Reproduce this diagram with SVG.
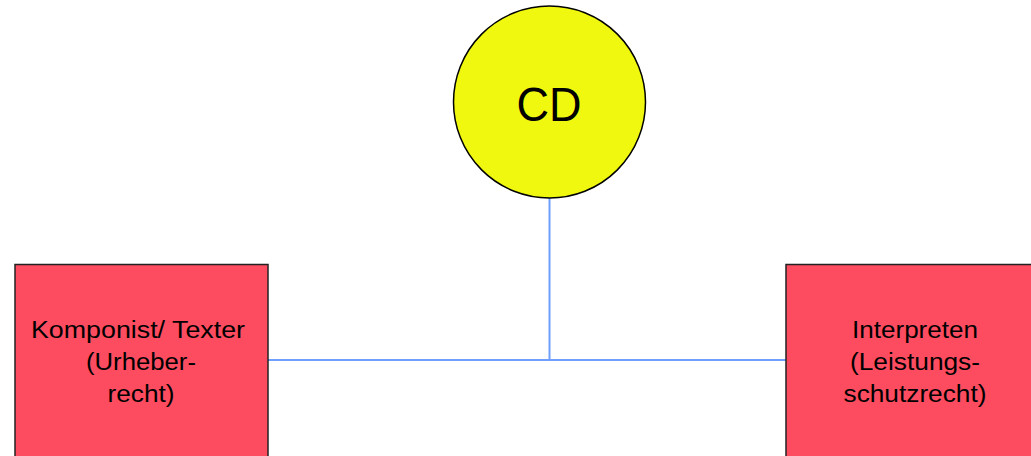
<svg xmlns="http://www.w3.org/2000/svg" width="1031" height="456" viewBox="0 0 1031 456">
<style>
.box{fill:#FD4C5F;stroke:#222;stroke-width:1.5}
.t{font-family:"Liberation Sans",Arial,sans-serif;font-size:23.5px;fill:#000;text-anchor:middle}
.c{stroke:#6F9FFF;stroke-width:2;fill:none}
</style>
<rect width="1031" height="456" fill="#fff"/>
<g id="connectors">
<line class="c" x1="549.5" y1="198" x2="549.5" y2="360"/>
<line class="c" x1="268" y1="360" x2="786" y2="360"/>
</g>
<g id="cd">
<circle cx="549.5" cy="102" r="96" fill="#F1F80F" stroke="#000" stroke-width="1.5"/>
<text x="549" y="120.5" style="font-family:'Liberation Sans',Arial,sans-serif;font-size:48px;text-anchor:middle" textLength="65" lengthAdjust="spacingAndGlyphs">CD</text>
</g>
<g id="komponist">
<rect class="box" x="15" y="264.5" width="253" height="200"/>
<text class="t" x="138" y="337.5" textLength="214" lengthAdjust="spacingAndGlyphs">Komponist/ Texter</text>
<text class="t" x="141" y="369.5" textLength="110" lengthAdjust="spacingAndGlyphs">(Urheber-</text>
<text class="t" x="141" y="401.5" textLength="67" lengthAdjust="spacingAndGlyphs">recht)</text>
</g>
<g id="interpreten">
<rect class="box" x="786" y="264.5" width="253" height="200"/>
<text class="t" x="915" y="337.5" textLength="126" lengthAdjust="spacingAndGlyphs">Interpreten</text>
<text class="t" x="915" y="369.5" textLength="130" lengthAdjust="spacingAndGlyphs">(Leistungs-</text>
<text class="t" x="915" y="401.5" textLength="143" lengthAdjust="spacingAndGlyphs">schutzrecht)</text>
</g>
</svg>
